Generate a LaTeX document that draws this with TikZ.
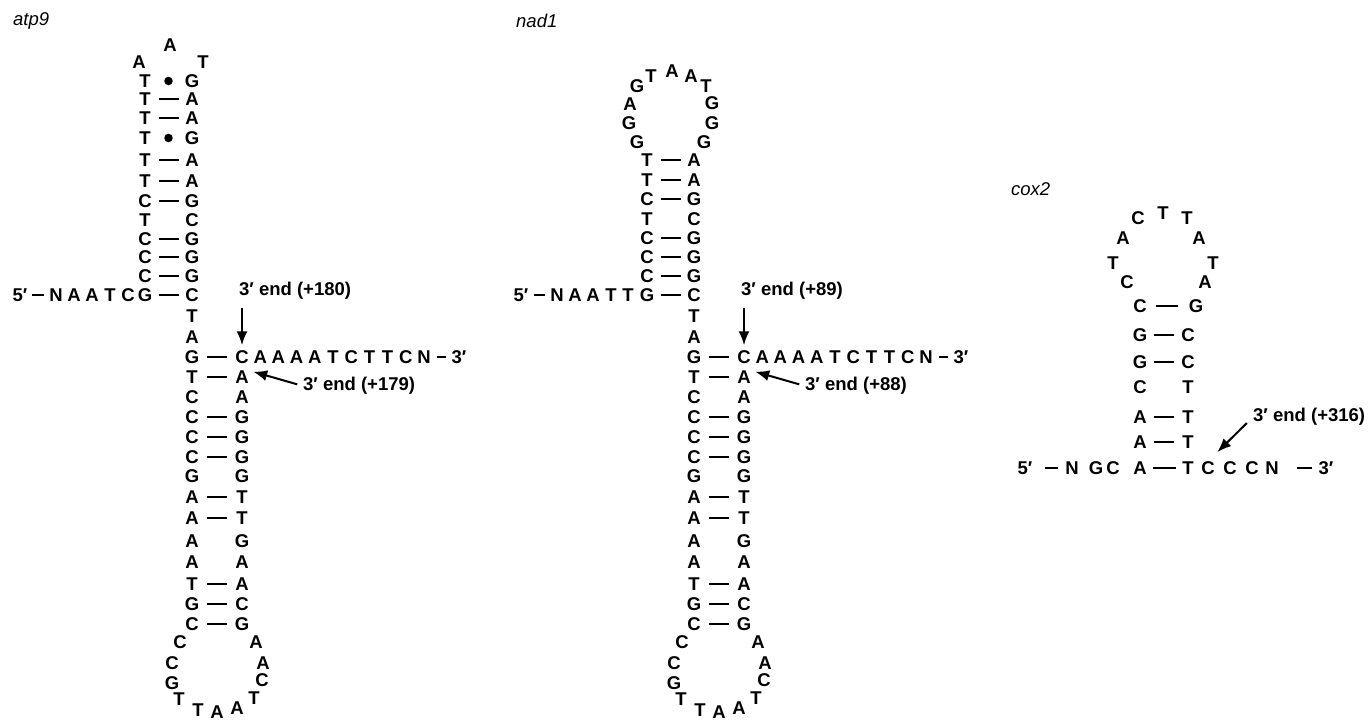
\documentclass[tikz,border=0pt]{standalone}
\usepackage{fontspec}
\setmainfont{Liberation Sans}
\usepackage{tikz}
\usetikzlibrary{arrows.meta}

\begin{document}
\begin{tikzpicture}[
    x=1pt, y=-1pt,
    % styles
    base/.style={inner sep=0pt, font=\bfseries\fontsize{18.5}{22}\selectfont},
    gene/.style={inner sep=0pt, anchor=west, font=\itshape\fontsize{18.5}{22}\selectfont},
    note/.style={inner sep=0pt, anchor=west, font=\bfseries\fontsize{18.5}{22}\selectfont},
    bond/.style={line width=2pt, shorten <=#1, shorten >=#1},
    bond/.default=13.5pt,
    wobble/.style={circle, fill, inner sep=0pt, minimum size=8.5pt},
    pointer/.style={line width=2pt, -{Latex[length=14pt, width=11pt]}}]

    \useasboundingbox (0,0) rectangle (1369,721);

    % atp9: top of the hairpin
    \node[gene] (atp) at (13,21) {atp9};
    \node[base] (a-h1) at (139,62) {A};
    \node[base] (a-h2) at (170,45) {A};
    \node[base] (a-h3) at (203,62) {T};
    % atp9: upper stem
    \foreach \i/\y/\bl/\br in {1/81/T/G, 2/99/T/A, 3/118/T/A, 4/138/T/G,
      5/160/T/A, 6/181/T/A, 7/201/C/G, 8/220/T/C, 9/239/C/G, 10/257/C/G,
      11/276/C/G, 12/295/G/C} {
      \node[base] (a-ul\i) at (145,\y) {\bl};
      \node[base] (a-ur\i) at (192,\y) {\br};
    }
    \foreach \i in {2,3,5,6,7,9,10,11,12}
      \draw[bond] (a-ul\i.center) -- (a-ur\i.center);
    \foreach \i in {1,4}
      \path (a-ul\i.center) -- (a-ur\i.center) node[midway, wobble] {};
    % atp9: 5' end
    \node[base] (a-5) at (20,295) {5′};
    \foreach \x/\nt [count=\i] in {56/N, 74/A, 92/A, 110/T, 128/C}
      \node[base] (a-s\i) at (\x,295) {\nt};
    \draw[bond=12pt] (a-5.center) -- (a-s1.center);

    % nad1: top of the hairpin
    \node[gene] (nad) at (516,21) {nad1};
    \foreach \x/\y/\nt [count=\i] in {637/142/G, 629/123/G, 630/104/A,
      637/86/G, 651/76/T, 672/71/A, 691/76/A, 706/86/T, 712/103/G,
      712/123/G, 704/142/G}
      \node[base] (n-h\i) at (\x,\y) {\nt};
    % nad1: upper stem
    \foreach \i/\y/\bl/\br in {1/160/T/A, 2/180/T/A, 3/199/C/G, 4/219/T/C,
      5/238/C/G, 6/257/C/G, 7/276/C/G, 8/295/G/C} {
      \node[base] (n-ul\i) at (647,\y) {\bl};
      \node[base] (n-ur\i) at (694,\y) {\br};
    }
    \foreach \i in {1,2,3,5,6,7,8}
      \draw[bond] (n-ul\i.center) -- (n-ur\i.center);
    % nad1: 5' end
    \node[base] (n-5) at (521,295) {5′};
    \foreach \x/\nt [count=\i] in {557/N, 575/A, 593/A, 611/T, 628/T}
      \node[base] (n-s\i) at (\x,295) {\nt};
    \draw[bond=12.5pt] (n-5.center) -- (n-s1.center);

    % atp9 and nad1: lower stem, loop and 3' end
    \foreach \gn/\dx/\up/\lo in {a/0/+180/+179, n/502/+89/+88} {
      % strand between the stems
      \node[base] (\gn-j1) at ({192+\dx},316) {T};
      \node[base] (\gn-j2) at ({192+\dx},337) {A};
      % lower stem
      \foreach \i/\y/\bl/\br in {1/357/G/C, 2/377/T/A, 3/397/C/A, 4/417/C/G,
        5/437/C/G, 6/457/C/G, 7/476/G/G, 8/497/A/T, 9/518/A/T, 10/541/A/G,
        11/562/A/A, 12/584/T/A, 13/604/G/C, 14/624/C/G} {
        \node[base] (\gn-dl\i) at ({192+\dx},\y) {\bl};
        \node[base] (\gn-dr\i) at ({242+\dx},\y) {\br};
      }
      \foreach \i in {1,2,4,5,6,8,9,12,13,14}
        \draw[bond=15pt] (\gn-dl\i.center) -- (\gn-dr\i.center);
      % lower loop
      \foreach \x/\y/\nt [count=\i] in {180/642/C, 172/663/C, 172/683/G,
        179/699/T, 198/710/T, 217/712/A, 237/708/A, 254/698/T, 262/680/C,
        263/663/A, 256/642/A}
        \node[base] (\gn-b\i) at ({\x+\dx},\y) {\nt};
      % 3' end
      \foreach \nt [count=\i] in {A,A,A,A,T,C,T,T,C,N}
        \node[base] (\gn-e\i) at ({242+\dx+18.2*\i},357) {\nt};
      \node[base] (\gn-3) at ({459+\dx},357) {3′};
      \draw[bond=13pt] (\gn-e10.center) -- (\gn-3.center);
      % mapped 3' ends
      \node[note] (\gn-up) at ({239+\dx},291) {3′ end (\up)};
      \node[note] (\gn-lo) at ({303+\dx},386) {3′ end (\lo)};
      \draw[pointer, shorten <=8pt, shorten >=5pt]
        (\gn-up.south -| \gn-dr1.center) -- (\gn-dr1.north);
      \draw[pointer, shorten <=6pt, shorten >=4.5pt]
        (\gn-lo.west) -- (\gn-dr2.north east);
    }

    % cox2: loop
    \node[gene] (cox) at (1011,189) {cox2};
    \foreach \x/\y/\nt [count=\i] in {1127/282/C, 1113/263/T, 1123/238/A,
      1138/218/C, 1163/213/T, 1187/218/T, 1199/238/A, 1213/263/T, 1205/282/A}
      \node[base] (c-h\i) at (\x,\y) {\nt};
    % cox2: stem
    \foreach \i/\y/\bl/\br/\xr in {1/306/C/G/1196, 2/335/G/C/1188,
      3/362/G/C/1188, 4/387/C/T/1188, 5/417/A/T/1188, 6/442/A/T/1188,
      7/468/A/T/1188} {
      \node[base] (c-l\i) at (1140,\y) {\bl};
      \node[base] (c-r\i) at (\xr,\y) {\br};
    }
    \draw[bond, shorten <=16pt, shorten >=18pt] (c-l1.center) -- (c-r1.center);
    \foreach \i in {2,3,5,6}
      \draw[bond=14pt] (c-l\i.center) -- (c-r\i.center);
    \draw[bond=12.5pt] (c-l7.center) -- (c-r7.center);
    % cox2: both ends
    \node[base] (c-5) at (1025,468) {5′};
    \foreach \x/\nt [count=\i] in {1072/N, 1096/G, 1113/C}
      \node[base] (c-s\i) at (\x,468) {\nt};
    \foreach \x/\nt [count=\i] in {1208/C, 1230/C, 1252/C, 1272/N}
      \node[base] (c-e\i) at (\x,468) {\nt};
    \node[base] (c-3) at (1326,468) {3′};
    \draw[bond, shorten <=20pt, shorten >=14pt] (c-5.center) -- (c-s1.center);
    \draw[bond, shorten <=25pt, shorten >=14pt] (c-e4.center) -- (c-3.center);
    \node[note] (c-end) at (1253,417) {3′ end (+316)};
    \draw[pointer, shorten <=8.5pt, shorten >=13pt]
      (c-end.west) -- (c-e1.north);

  \end{tikzpicture}
\end{document}
